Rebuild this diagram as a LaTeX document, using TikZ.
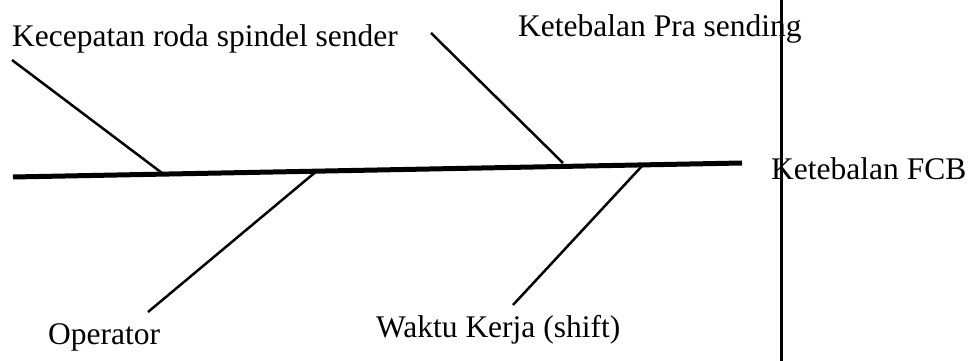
\documentclass[tikz,border=0pt]{standalone}
\usepackage{fontspec}
\setmainfont{Liberation Serif}
\usepackage{tikz}
\usetikzlibrary{positioning}
\tikzset{
	cause_label/.style = {
		anchor=base west,
		inner sep=0pt,
		font=\fontsize{31.5}{38}\selectfont
	},
	bone_main/.style = {
		line width=5pt
	},
	bone_side/.style = {
		line width=2.5pt
	},
	bar_line/.style = {
		line width=3pt
	},
}

\begin{document}
\begin{tikzpicture}[x=1pt,y=1pt]
\useasboundingbox (0,0) rectangle (969,361);
% ends of the spine
\coordinate (tail) at (13,184);
\coordinate (head) at (742,198);
% where the bones meet the spine
\coordinate (j_roda) at (162,188);
\coordinate (j_pra) at (563,198);
\coordinate (j_op) at (318,191);
\coordinate (j_shift) at (642,195);
% free ends of the bones
\coordinate (e_roda) at (12,301);
\coordinate (e_pra) at (431,328);
\coordinate (e_op) at (148,49);
\coordinate (e_shift) at (513,56);
% the bar
\coordinate (bar_top) at (781,361);
\coordinate (bar_bot) at (781,0);

\node [cause_label] (roda) at (12,314) {Kecepatan roda spindel sender};
\node [cause_label] (pra) at (518,324) {Ketebalan Pra sending};
\node [cause_label] (fcb) at (771,181) {Ketebalan FCB};
\node [cause_label] (op) at (48,16) {Operator};
\node [cause_label] (shift) at (376,23) {Waktu Kerja (shift)};

\draw [bone_main] (tail) -- (head);
\draw [bone_side] (e_roda) -- (j_roda);
\draw [bone_side] (e_pra) -- (j_pra);
\draw [bone_side] (j_op) -- (e_op);
\draw [bone_side] (j_shift) -- (e_shift);
\draw [bar_line] (bar_top) -- (bar_bot);
\end{tikzpicture}
\end{document}
